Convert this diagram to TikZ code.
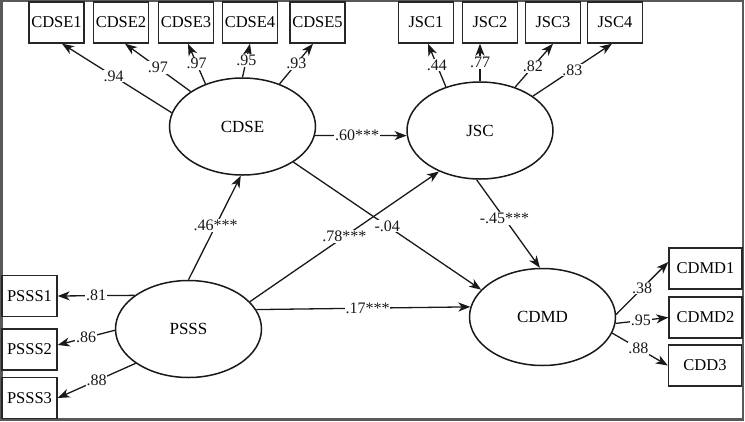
\documentclass[tikz,border=0pt]{standalone}
\usepackage{fontspec}
\setmainfont{Liberation Serif}
\usetikzlibrary{arrows.meta,shapes.geometric}

\begin{document}
\begin{tikzpicture}[
        x=1pt, y=-1pt,
        item/.style={rectangle, draw=black!85, line width=1.4pt, inner sep=0pt, minimum height=41pt, font=\fontsize{16.5}{18}\selectfont},
        small/.style={item, minimum width=55pt},
        wide/.style={item, minimum width=73pt},
        latent/.style={ellipse, draw=black!90, line width=1.5pt, inner sep=0pt, minimum width=146pt, minimum height=97pt, font=\fontsize{17}{18}\selectfont},
        link/.style={-{Stealth[length=12pt,width=9pt,inset=3.5pt]}, line width=1.3pt, black!90},
        coef/.style={fill=white, inner sep=0.8pt, font=\fontsize{16}{17}\selectfont},
        frame/.style={draw=black!65, line width=2.4pt}
    ]
        \useasboundingbox (0,0) rectangle (745,421);
        \draw[frame] (1.5,1) rectangle (743,419.5);

        % Nodes
        \node[latent] (CDSE) at (242.5,126.5) {CDSE};
        \node[latent] (JSC) at (480,130.5) {JSC};
        \node[latent] (PSSS) at (188.5,329) {PSSS};
        \node[latent] (CDMD) at (542.5,317) {CDMD};

        \node[small] (CDSE1) at (56.5,22.5) {CDSE1};
        \node[small] (CDSE2) at (121,22.5) {CDSE2};
        \node[small] (CDSE3) at (186,22.5) {CDSE3};
        \node[small] (CDSE4) at (250,22.5) {CDSE4};
        \node[small] (CDSE5) at (317.5,22.5) {CDSE5};

        \node[small] (JSC1) at (426,22.5) {JSC1};
        \node[small] (JSC2) at (490,22.5) {JSC2};
        \node[small] (JSC3) at (553,22.5) {JSC3};
        \node[small] (JSC4) at (615,22.5) {JSC4};

        \node[small] (PSSS1) at (29.5,296) {PSSS1};
        \node[small] (PSSS2) at (29.5,349.5) {PSSS2};
        \node[small] (PSSS3) at (29.5,398) {PSSS3};

        \node[wide] (CDMD1) at (705.5,268.5) {CDMD1};
        \node[wide] (CDMD2) at (705.5,317.5) {CDMD2};
        \node[wide] (CDD3) at (705,365.5) {CDD3};

        % Loadings
        \draw[link] (CDSE.169) -- node[coef, pos=0.53] {.94} ([xshift=5.5pt]CDSE1.south);
        \draw[link] (CDSE.146) -- node[coef] {.97} ([xshift=4pt]CDSE2.south);
        \draw[link] (CDSE.131) -- node[coef] {.97} ([xshift=2pt]CDSE3.south);
        \draw[link] (CDSE.90) -- node[coef] {.95} (CDSE4.south);
        \draw[link] (CDSE.49) -- node[coef] {.93} ([xshift=-4.5pt]CDSE5.south);

        \draw[link] (JSC.128) -- node[coef] {.44} ([xshift=2pt]JSC1.south);
        \draw[link] (JSC.90) -- node[coef] {.77} ([xshift=-10pt]JSC2.south);
        \draw[link] (JSC.51) -- node[coef, pos=0.47] {.82} (JSC3.south);
        \draw[link] (JSC.33) -- node[coef] {.83} ([xshift=-3pt]JSC4.south);

        \draw[link] (PSSS.148) -- node[coef] {.81} (PSSS1.east);
        \draw[link] (PSSS.181) -- node[coef] {.86} ([yshift=4.5pt]PSSS2.east);
        \draw[link] (PSSS.213) -- node[coef] {.88} (PSSS3.east);

        \draw[link] (CDMD.2) -- node[coef] {.38} ([yshift=6.5pt]CDMD1.west);
        \draw[link] (CDMD.355) -- node[coef, pos=0.48] {.95} (CDMD2.west);
        \draw[link] (CDMD.347) -- node[coef, pos=0.47] {.88} (CDD3.west);

        % Structural paths
        \draw[link] (CDSE.353) -- node[coef, pos=0.46] {.60***} (JSC.184);
        \draw[link] (CDSE.325) -- node[coef] {-.04} (CDMD.156);
        \draw[link] (JSC.266) -- node[coef, pos=0.44] {-.45***} (CDMD.93);
        \draw[link] (PSSS.90) -- node[coef, pos=0.52] {.46***} (CDSE.268);
        \draw[link] (PSSS.24) -- node[coef] {.78***} (JSC.225);
        \draw[link] (PSSS.16) -- node[coef, pos=0.52] {.17***} (CDMD.172);
    \end{tikzpicture}
\end{document}
